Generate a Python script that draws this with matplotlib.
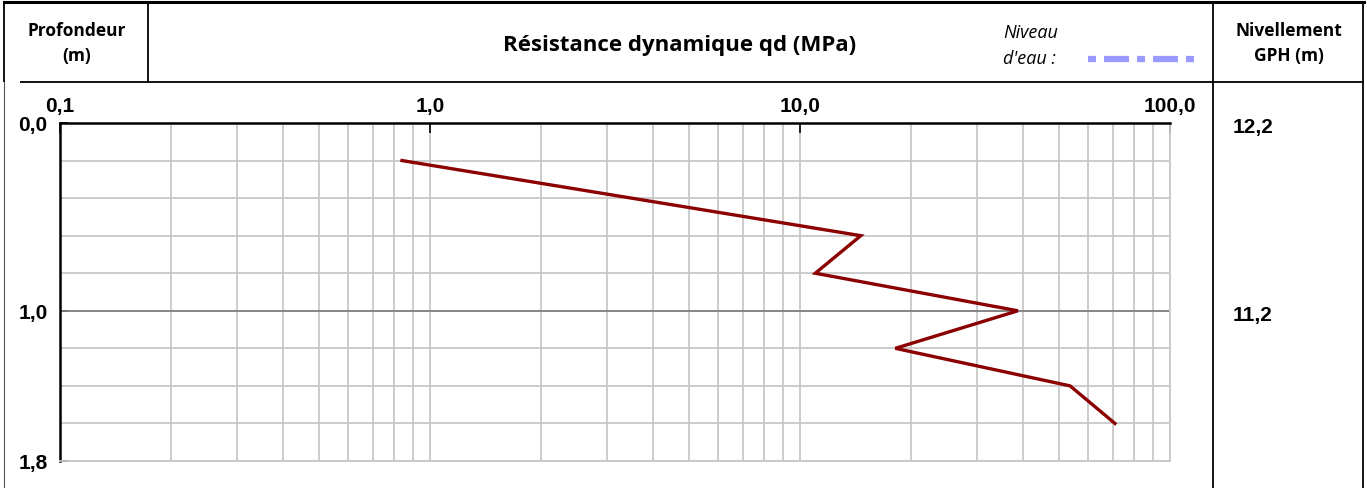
import numpy as np
import matplotlib
matplotlib.use("Agg")
import matplotlib.pyplot as plt
from matplotlib.font_manager import FontProperties
from matplotlib.ticker import LogLocator, FixedLocator, NullFormatter

# penetrometer data
depth = [0.2, 0.6, 0.8, 1.0, 1.2, 1.4, 1.6]
qd = [0.84, 14.6, 11.0, 38.8, 18.1, 53.7, 71.0]

depth_ticks = [0.0, 1.0, 1.8]
depth_labels = ["0,0", "1,0", "1,8"]
qd_ticks = [0.1, 1.0, 10.0, 100.0]
qd_labels = ["0,1", "1,0", "10,0", "100,0"]
level_depths = [0.0, 1.0]
level_labels = ["12,2", "11,2"]

W, H = 1367, 489
fig = plt.figure(figsize=(W / 100, H / 100), dpi=100)

# frame of the table, drawn in pixel coordinates
frame = fig.add_axes([0, 0, 1, 1])
frame.set_xlim(0, W)
frame.set_ylim(H, 0)
frame.axis("off")
k = dict(color="black", lw=1.3, solid_capstyle="butt")
frame.plot([4, 1364], [3, 3], color="black", lw=2.2)
frame.plot([4, 4], [3, 83], **k)
frame.plot([4, 4], [83, H], color="#555555", lw=0.8)
frame.plot([148, 148], [3, 83], **k)
frame.plot([20, 1364], [83, 83], **k)
frame.plot([1213, 1213], [3, H], **k)
frame.plot([1363, 1363], [3, H], **k)

hdr = dict(fontfamily="Open Sans", fontweight="bold", ha="center", va="center")
frame.text(77, 31, "Profondeur", fontsize=12.5, **hdr)
frame.text(77, 56, "(m)", fontsize=12.5, **hdr)
frame.text(680, 46, "Résistance dynamique qd (MPa)", fontsize=16, **hdr)
frame.text(1289, 31, "Nivellement", fontsize=12.5, **hdr)
frame.text(1289, 56, "GPH (m)", fontsize=12.5, **hdr)
ital = dict(fontfamily="Open Sans", fontstyle="italic", fontsize=13, ha="left", va="center")
frame.text(1003, 33, "Niveau", **ital)
frame.text(1003, 59, "d'eau :", **ital)
frame.plot([1088, 1194], [60, 60], color="#9999ff", lw=4.5,
           dashes=(1.28, 1.28, 4.0, 1.28), solid_capstyle="butt")

# main chart
x0, x1, y0, y1 = 60, 1170, 124, 462
ax = fig.add_axes([x0 / W, 1 - y1 / H, (x1 - x0) / W, (y1 - y0) / H])
ax.set_xscale("log")
ax.set_xlim(0.1, 100)
ax.set_ylim(1.8, 0.0)

ax.xaxis.tick_top()
ax.set_xticks(qd_ticks)
ax.set_xticklabels(qd_labels)
ax.xaxis.set_minor_locator(LogLocator(base=10, subs=np.arange(2, 10)))
ax.xaxis.set_minor_formatter(NullFormatter())
ax.set_yticks(depth_ticks)
ax.set_yticklabels(depth_labels)
ax.yaxis.set_minor_locator(FixedLocator(np.arange(0.2, 1.8, 0.2)))

fp = FontProperties(family="Liberation Sans", weight="bold", size=15)
for t in ax.get_xticklabels() + ax.get_yticklabels():
    t.set_fontproperties(fp)
ax.tick_params(axis="x", which="major", direction="in", length=7, width=1.2,
               color="black", pad=6)
ax.tick_params(axis="x", which="minor", length=0)
ax.tick_params(axis="y", which="major", direction="in", length=6, width=1.2, pad=9)
ax.tick_params(axis="y", which="minor", length=0)

ax.grid(True, which="both", axis="both", color="#c8c8c8", lw=1.3)
ax.axhline(1.0, color="#808080", lw=1.3, zorder=1.5)
ax.set_axisbelow(True)

for s in ["top", "left"]:
    ax.spines[s].set_color("black")
    ax.spines[s].set_linewidth(1.8)
for s in ["bottom", "right"]:
    ax.spines[s].set_color("#c8c8c8")
    ax.spines[s].set_linewidth(1.3)

ax.plot(qd, depth, color="#8b0000", lw=2.4, zorder=3, solid_joinstyle="miter")

# ground level column, placed with the depth scale
for d, lab in zip(level_depths, level_labels):
    frame.text(1233, y0 + (y1 - y0) * d / 1.8 + 4, lab, fontproperties=fp,
               ha="left", va="center")

fig.savefig("out.png", dpi=100)
